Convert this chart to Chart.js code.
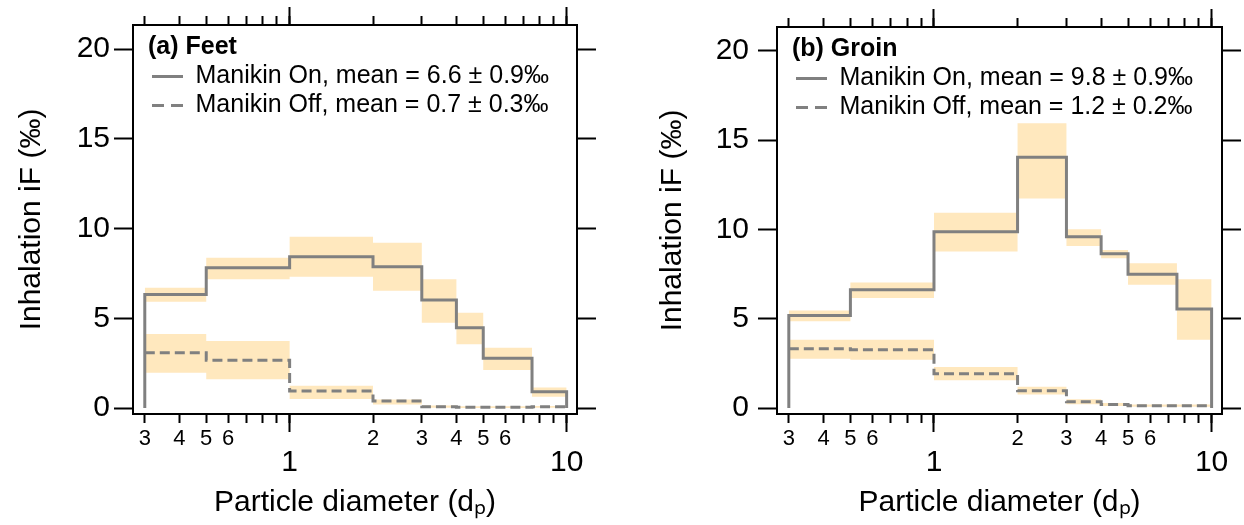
<!DOCTYPE html>
<html>
<head>
<meta charset="utf-8">
<script src="https://cdn.jsdelivr.net/npm/chart.js"></script>
<style>
  body { margin: 0; background: #fff; }
  .panel { position: absolute; top: 0; width: 622px; height: 525px; }
</style>
</head>
<body>
<div class="panel" style="left:0"><canvas id="chartA" width="622" height="525"></canvas></div>
<div class="panel" style="left:622px"><canvas id="chartB" width="622" height="525"></canvas></div>
<script>
// size bin edges, particle diameter
const binEdges = [0.3, 0.5, 1, 2, 3, 4, 5, 7.5, 10];

// (a) Feet
const feetOn = [6.33, 7.82, 8.43, 7.87, 6.02, 4.47, 2.77, 0.91];
const feetOnLow = [5.92, 7.17, 7.32, 6.54, 4.75, 3.55, 2.12, 0.63];
const feetOnHigh = [6.70, 8.37, 9.55, 9.21, 7.17, 5.31, 3.36, 1.15];
const feetOff = [3.08, 2.67, 0.95, 0.39, 0.08, 0.05, 0.05, 0.07];
const feetOffLow = [1.97, 1.60, 0.50, 0.20, 0.02, 0.00, 0.00, 0.02];
const feetOffHigh = [4.12, 3.73, 1.24, 0.48, 0.15, 0.10, 0.10, 0.12];

// (b) Groin
const groinOn = [5.18, 6.63, 9.88, 14.04, 9.60, 8.65, 7.50, 5.55];
const groinOnLow = [4.87, 6.16, 8.77, 11.74, 9.08, 8.39, 6.91, 3.83];
const groinOnHigh = [5.46, 7.04, 10.94, 15.95, 10.01, 8.86, 8.11, 7.22];
const groinOff = [3.32, 3.27, 1.93, 0.97, 0.35, 0.20, 0.13, 0.13];
const groinOffLow = [2.77, 2.71, 1.56, 0.76, 0.22, 0.12, 0.07, 0.07];
const groinOffHigh = [3.83, 3.83, 2.30, 1.19, 0.50, 0.28, 0.20, 0.20];

const feetLabels = ['Manikin On, mean = 6.6 ± 0.9‰', 'Manikin Off, mean = 0.7 ± 0.3‰'];
const groinLabels = ['Manikin On, mean = 9.8 ± 0.9‰', 'Manikin Off, mean = 1.2 ± 0.2‰'];

// axis ticks
const tickVals = [0.3, 0.4, 0.5, 0.6, 0.7, 0.8, 0.9, 1, 2, 3, 4, 5, 6, 7, 8, 9, 10];
const minorText = ['3', '4', '5', '6', '', '', '', '', '2', '3', '4', '5', '6', '', '', '', ''];
const majorVals = [1, 10];
const majorText = ['1', '10'];
const yTicks = [0, 5, 10, 15, 20];

const xMin = 0.272, xMax = 10.9;
const yMin = -0.33, yMax = 21.34;

const FONT = "'Liberation Sans', Arial, sans-serif";
const GREY = '#808080';
const BAND = 'rgb(255, 232, 190)';

Chart.defaults.font.family = FONT;
Chart.defaults.color = '#000';

function stepPoints(vals, closed) {
    const pts = [];
    if (closed) pts.push({x: binEdges[0], y: 0});
    vals.forEach((v, i) => pts.push({x: binEdges[i], y: v}));
    pts.push({x: binEdges[binEdges.length - 1], y: vals[vals.length - 1]});
    if (closed) pts.push({x: binEdges[binEdges.length - 1], y: 0});
    return pts;
}

// legend sits inside the frame, top-left
const legendInset = {
    id: 'legendInset',
    afterLayout(chart) {
        const l = chart.legend, a = chart.chartArea;
        l.left = a.left + 15;
        l.right = a.right;
        l.top = a.top;
        l.bottom = a.bottom;
    }
};

function makeChart(canvas, box, title, labels, on, onLow, onHigh, off, offLow, offHigh) {
    const frame = {display: true, color: '#000', width: 2};
    const logX = {type: 'logarithmic', min: xMin, max: xMax, bounds: 'data'};
    const ticksAll = (s) => { s.ticks = tickVals.map(v => ({value: v})); };
    const ticksMajor = (s) => { s.ticks = majorVals.map(v => ({value: v})); };
    const isMajor = (i) => majorVals.includes(tickVals[i]);

    return new Chart(canvas, {
        type: 'line',
        data: {
            datasets: [
                {label: labels[0], data: stepPoints(on, true), borderColor: GREY, borderWidth: 3, stepped: true, pointRadius: 0, fill: false, xAxisID: 'x', yAxisID: 'y'},
                {label: labels[1], data: stepPoints(off, false), borderColor: GREY, borderWidth: 3, borderDash: [10, 5], stepped: true, pointRadius: 0, fill: false, xAxisID: 'x', yAxisID: 'y'},
                {data: stepPoints(onHigh, false), borderWidth: 0, stepped: true, pointRadius: 0, fill: '+1', backgroundColor: BAND, xAxisID: 'x', yAxisID: 'y'},
                {data: stepPoints(onLow, false), borderWidth: 0, stepped: true, pointRadius: 0, fill: false, xAxisID: 'x', yAxisID: 'y'},
                {data: stepPoints(offHigh, false), borderWidth: 0, stepped: true, pointRadius: 0, fill: '+1', backgroundColor: BAND, xAxisID: 'x', yAxisID: 'y'},
                {data: stepPoints(offLow, false), borderWidth: 0, stepped: true, pointRadius: 0, fill: false, xAxisID: 'x', yAxisID: 'y'}
            ]
        },
        options: {
            responsive: false,
            animation: false,
            events: [],
            layout: {padding: 0},
            plugins: {
                tooltip: {enabled: false},
                legend: {
                    position: 'chartArea',
                    align: 'start',
                    title: {display: true, text: title, position: 'start', color: '#000', font: {size: 25, weight: 'bold', lineHeight: 1}, padding: {top: 10, bottom: 0}},
                    labels: {
                        usePointStyle: true,
                        pointStyleWidth: 31,
                        padding: 4,
                        color: '#000',
                        font: {size: 25},
                        generateLabels: (chart) => chart.data.datasets.slice(0, 2).map((ds, i) => ({
                            text: ds.label,
                            strokeStyle: ds.borderColor,
                            fillStyle: 'rgba(0,0,0,0)',
                            fontColor: '#000',
                            lineWidth: ds.borderWidth,
                            lineDash: ds.borderDash ? [12, 7] : [],
                            pointStyle: 'line',
                            hidden: false,
                            datasetIndex: i
                        }))
                    }
                }
            },
            scales: {
                // long ticks at the decades, no labels
                xMajor: {
                    ...logX, position: 'bottom', weight: 0, border: frame,
                    grid: {drawOnChartArea: false, tickLength: 18, tickWidth: 2, tickColor: '#000'},
                    afterBuildTicks: ticksMajor,
                    ticks: {display: false},
                    afterFit: (s) => { s.height = 0; }
                },
                x: {
                    ...logX, position: 'bottom', weight: 1, border: frame,
                    grid: {drawOnChartArea: false, tickLength: 9, tickWidth: 2, tickColor: '#000'},
                    afterBuildTicks: ticksAll,
                    ticks: {
                        autoSkip: false, maxRotation: 0, padding: 3, color: '#000',
                        font: (c) => isMajor(c.index) ? {family: FONT, size: 30, lineHeight: 2.47} : {family: FONT, size: 22, lineHeight: 1.2},
                        callback: (v, i) => isMajor(i) ? majorText[majorVals.indexOf(tickVals[i])] : minorText[i]
                    },
                    title: {display: true, text: 'Particle diameter (dₚ)', color: '#000', font: {size: 30}, padding: {top: 0, bottom: 4}},
                    afterFit: (s) => { s.height = 525 - box.bottom; }
                },
                xTop: {
                    ...logX, position: 'top', weight: 0, border: frame,
                    grid: {drawOnChartArea: false, tickLength: 9, tickWidth: 2, tickColor: '#000'},
                    afterBuildTicks: ticksAll,
                    ticks: {display: false},
                    afterFit: (s) => { s.height = 0; }
                },
                xTopMajor: {
                    ...logX, position: 'top', weight: 1, border: frame,
                    grid: {drawOnChartArea: false, tickLength: 18, tickWidth: 2, tickColor: '#000'},
                    afterBuildTicks: ticksMajor,
                    ticks: {display: false},
                    afterFit: (s) => { s.height = box.top; }
                },
                y: {
                    type: 'linear', position: 'left', min: yMin, max: yMax, bounds: 'data', border: frame,
                    grid: {drawOnChartArea: false, tickLength: 19, tickWidth: 2, tickColor: '#000'},
                    afterBuildTicks: (s) => { s.ticks = yTicks.map(v => ({value: v})); },
                    ticks: {padding: box.tickPad, color: '#000', font: {size: 30}},
                    title: {display: true, text: 'Inhalation iF (‰)', color: '#000', font: {size: 30}, padding: {top: box.titlePad, bottom: 0}},
                    afterFit: (s) => { s.width = box.left; }
                },
                yRight: {
                    type: 'linear', position: 'right', min: yMin, max: yMax, bounds: 'data', border: frame,
                    grid: {drawOnChartArea: false, tickLength: 19, tickWidth: 2, tickColor: '#000'},
                    afterBuildTicks: (s) => { s.ticks = yTicks.map(v => ({value: v})); },
                    ticks: {display: false},
                    afterFit: (s) => { s.width = 622 - box.right; }
                }
            }
        },
        plugins: [legendInset]
    });
}

makeChart(document.getElementById('chartA'),
    {left: 133, right: 577, top: 25, bottom: 414, tickPad: 4, titlePad: 14},
    '(a) Feet', feetLabels, feetOn, feetOnLow, feetOnHigh, feetOff, feetOffLow, feetOffHigh);

makeChart(document.getElementById('chartB'),
    {left: 155, right: 600, top: 25, bottom: 414, tickPad: 9, titlePad: 33},
    '(b) Groin', groinLabels, groinOn, groinOnLow, groinOnHigh, groinOff, groinOffLow, groinOffHigh);
</script>
</body>
</html>
